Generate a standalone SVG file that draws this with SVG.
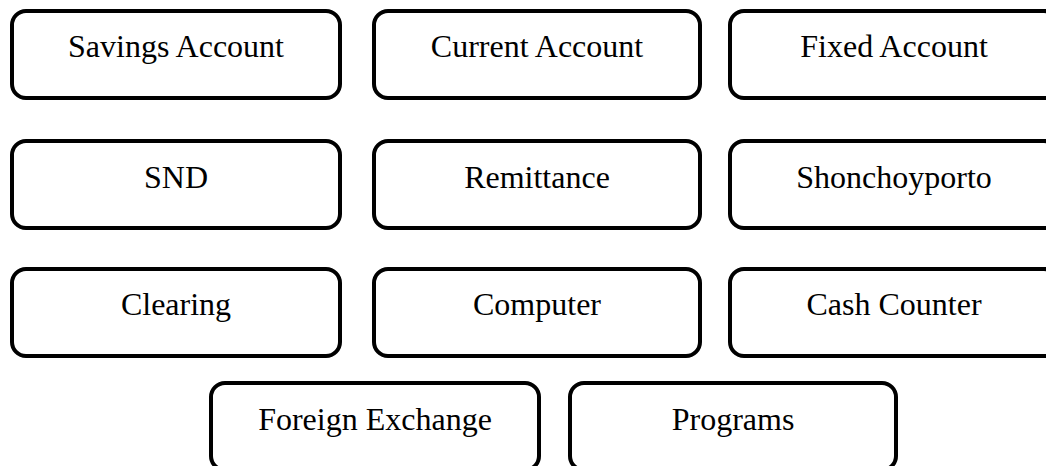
<svg xmlns="http://www.w3.org/2000/svg" width="1046" height="466" viewBox="0 0 1046 466">
<style>
.box{fill:#fff;stroke:#000;stroke-width:4}
.lbl{font-family:"Liberation Serif","Times New Roman",serif;font-size:32px;fill:#000;text-anchor:middle}
</style>
<rect width="1046" height="466" fill="#fff"/>
<g id="connectors"/>
<g id="savings"><rect class="box" x="12" y="11" width="328" height="87" rx="14"/><text class="lbl" x="176" y="57">Savings Account</text></g>
<g id="current"><rect class="box" x="374" y="11" width="326" height="87" rx="14"/><text class="lbl" x="537" y="57">Current Account</text></g>
<g id="fixed"><rect class="box" x="730" y="11" width="328" height="87" rx="14"/><text class="lbl" x="894" y="57">Fixed Account</text></g>
<g id="snd"><rect class="box" x="12" y="141" width="328" height="87" rx="14"/><text class="lbl" x="176" y="188">SND</text></g>
<g id="remittance"><rect class="box" x="374" y="141" width="326" height="87" rx="14"/><text class="lbl" x="537" y="188">Remittance</text></g>
<g id="shonchoyporto"><rect class="box" x="730" y="141" width="328" height="87" rx="14"/><text class="lbl" x="894" y="188">Shonchoyporto</text></g>
<g id="clearing"><rect class="box" x="12" y="269" width="328" height="87" rx="14"/><text class="lbl" x="176" y="315">Clearing</text></g>
<g id="computer"><rect class="box" x="374" y="269" width="326" height="87" rx="14"/><text class="lbl" x="537" y="315">Computer</text></g>
<g id="cashcounter"><rect class="box" x="730" y="269" width="328" height="87" rx="14"/><text class="lbl" x="894" y="315">Cash Counter</text></g>
<g id="foreign"><rect class="box" x="211" y="383" width="328" height="87" rx="14"/><text class="lbl" x="375" y="430">Foreign Exchange</text></g>
<g id="programs"><rect class="box" x="570" y="383" width="326" height="87" rx="14"/><text class="lbl" x="733" y="430">Programs</text></g>
</svg>
